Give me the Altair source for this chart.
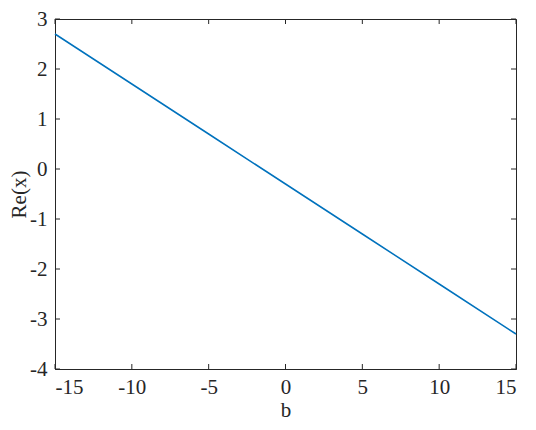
import altair as alt
import pandas as pd

# data
b_vals = [-15, -10, -5, 0, 5, 10, 15]
re_vals = [2.7, 1.7, 0.7, -0.3, -1.3, -2.3, -3.3]
x_ticks = [-15, -10, -5, 0, 5, 10, 15]
y_ticks = [-4, -3, -2, -1, 0, 1, 2, 3]

W, H = 461, 350
FONT = "Liberation Serif"
FS = 21
AX = "#262626"

df = pd.DataFrame({"b": b_vals, "re": re_vals})
xt = pd.DataFrame({"t": x_ticks})
yt = pd.DataFrame({"t": y_ticks})

xs = alt.Scale(domain=[-15, 15], nice=False, zero=False)
ys = alt.Scale(domain=[-4, 3], nice=False, zero=False)

line = alt.Chart(df).mark_line(color="#0072BD", strokeWidth=1.5).encode(
    x=alt.X("b:Q", scale=xs, title="b",
            axis=alt.Axis(values=x_ticks, ticks=False, grid=False, labelPadding=7,
                          titlePadding=2, labelExpr="'' + datum.value")),
    y=alt.Y("re:Q", scale=ys, title="Re(x)",
            axis=alt.Axis(values=y_ticks, ticks=False, grid=False, labelPadding=8,
                          titlePadding=0, labelExpr="'' + datum.value")),
)

tick_len = 5
xb = alt.Chart(xt).mark_rule(color=AX, strokeWidth=1).encode(
    x=alt.X("t:Q", scale=xs), y=alt.value(H - tick_len), y2=alt.value(H))
xtop = alt.Chart(xt).mark_rule(color=AX, strokeWidth=1).encode(
    x=alt.X("t:Q", scale=xs), y=alt.value(0), y2=alt.value(tick_len))
yl = alt.Chart(yt).mark_rule(color=AX, strokeWidth=1).encode(
    y=alt.Y("t:Q", scale=ys), x=alt.value(0), x2=alt.value(tick_len))
yr = alt.Chart(yt).mark_rule(color=AX, strokeWidth=1).encode(
    y=alt.Y("t:Q", scale=ys), x=alt.value(W - tick_len), x2=alt.value(W))

chart = alt.layer(line, xb, xtop, yl, yr).properties(
    width=W, height=H,
    autosize=alt.AutoSizeParams(type="none"),
    padding={"left": 47, "top": 11, "right": 12, "bottom": 53},
).configure_view(
    stroke=AX, strokeWidth=1
).configure_axis(
    domainColor=AX, domainWidth=1,
    labelFont=FONT, labelFontSize=FS, labelColor=AX,
    titleFont=FONT, titleFontSize=FS, titleColor=AX, titleFontWeight="normal",
)

chart.save("out.html", embed_options={"renderer": "svg", "actions": False})
